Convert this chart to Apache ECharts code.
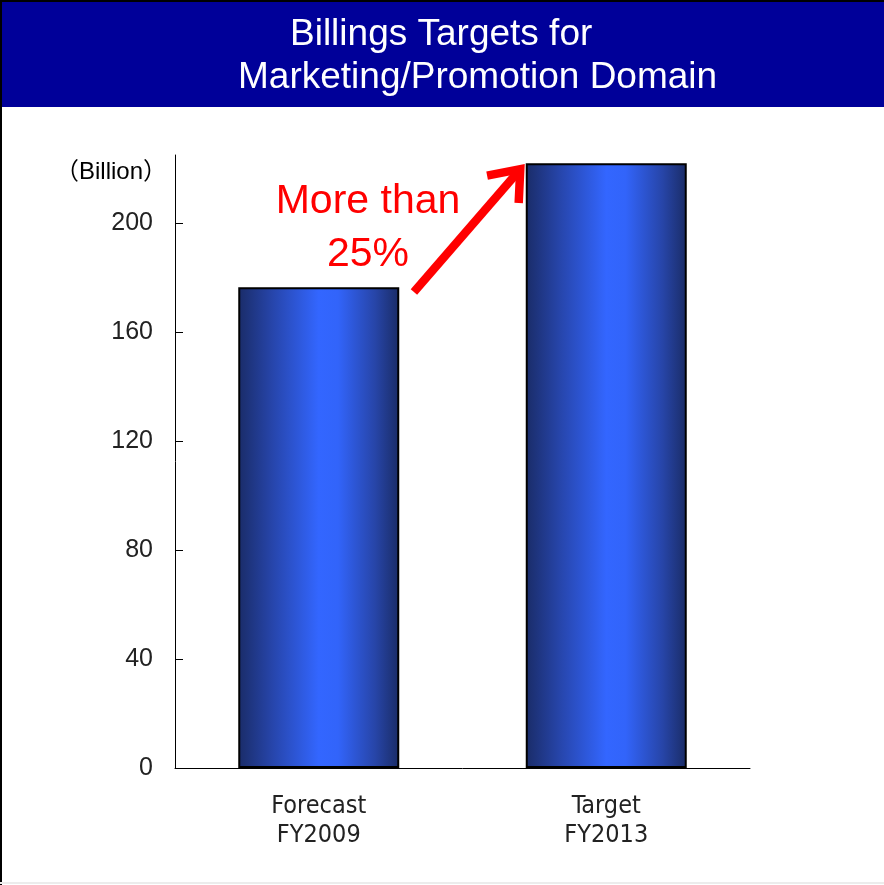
<!DOCTYPE html>
<html>
<head>
<meta charset="utf-8">
<script src="https://cdn.jsdelivr.net/npm/echarts@6/dist/echarts.min.js"></script>
<style>
  html, body { margin: 0; padding: 0; background: #fff; }
  #chart { width: 884px; height: 885px; }
</style>
</head>
<body>
<div id="chart"></div>
<script>
// Billings (in billions) for the marketing/promotion domain
const categories = ['Forecast\nFY2009', 'Target\nFY2013'];
const billings = [176.5, 222];
const yTicks = [0, 40, 80, 120, 160, 200];
// Growth arrow, in data units: [xStart, yStart, xEnd, yEnd] on a 0..2 helper axis
const growthArrow = [[0.831, 174.7, 1.21, 220.9]];

const chart = echarts.init(document.getElementById('chart'));

const barGradient = new echarts.graphic.LinearGradient(0, 0, 1, 0, [
  { offset: 0, color: '#1a2c68' },
  { offset: 0.22, color: '#2746ad' },
  { offset: 0.5, color: '#3366ff' },
  { offset: 0.62, color: '#3264fa' },
  { offset: 0.85, color: '#2745a8' },
  { offset: 1, color: '#1a2c66' }
]);

function renderArrow(params, api) {
  const p0 = api.coord([api.value(0), api.value(1)]);
  const p1 = api.coord([api.value(2), api.value(3)]);
  const ang = Math.atan2(p1[1] - p0[1], p1[0] - p0[0]);
  const len = 37, spread = 0.6;
  const a1 = [p1[0] - len * Math.cos(ang - spread), p1[1] - len * Math.sin(ang - spread)];
  const a2 = [p1[0] - len * Math.cos(ang + spread), p1[1] - len * Math.sin(ang + spread)];
  const tipBack = [p1[0] - 4 * Math.cos(ang), p1[1] - 4 * Math.sin(ang)];
  const style = { stroke: '#ff0000', lineWidth: 8.5, fill: null, lineJoin: 'miter', lineCap: 'butt' };
  return {
    type: 'group',
    children: [
      { type: 'line', shape: { x1: p0[0], y1: p0[1], x2: tipBack[0], y2: tipBack[1] }, style: style },
      { type: 'polyline', shape: { points: [a1, tipBack, a2] }, style: style }
    ]
  };
}

chart.setOption({
  backgroundColor: '#ffffff',
  animation: false,
  grid: { left: 175, right: 134, top: 155, bottom: 117 },
  xAxis: [
    {
      type: 'category',
      data: categories,
      axisLine: { lineStyle: { color: '#000', width: 1 } },
      axisTick: { show: false },
      axisLabel: {
        margin: 24,
        fontSize: 25,
        lineHeight: 29,
        color: '#222',
        fontFamily: '"Liberation Sans Narrow", "DejaVu Sans Condensed", sans-serif'
      }
    },
    {
      type: 'value',
      min: 0,
      max: 2,
      show: false
    }
  ],
  yAxis: {
    type: 'value',
    min: 0,
    max: 225,
    interval: 40,
    axisLine: { show: true, lineStyle: { color: '#000', width: 1 } },
    axisTick: { show: true, inside: true, length: 8, customValues: yTicks, lineStyle: { color: '#000' } },
    axisLabel: {
      customValues: yTicks,
      margin: 22,
      fontSize: 25,
      color: '#222',
      fontFamily: '"Liberation Sans", Arial, sans-serif'
    },
    splitLine: { show: false }
  },
  graphic: [
    { type: 'rect', shape: { x: 0, y: 0, width: 884, height: 107 }, style: { fill: '#000099' }, z: 0 },
    { type: 'rect', shape: { x: 0, y: 0, width: 884, height: 2 }, style: { fill: '#000' }, z: 1 },
    { type: 'rect', shape: { x: 0, y: 0, width: 2, height: 885 }, style: { fill: '#000' }, z: 1 },
    { type: 'rect', shape: { x: 0, y: 882, width: 884, height: 2 }, style: { fill: '#ececec' }, z: 1 },
    {
      type: 'text', left: 290, top: 16, z: 2,
      style: { text: 'Billings Targets for', fill: '#fff', font: '37px "Liberation Sans", Arial, sans-serif' }
    },
    {
      type: 'text', left: 238, top: 59, z: 2,
      style: { text: 'Marketing/Promotion Domain', fill: '#fff', font: '37px "Liberation Sans", Arial, sans-serif' }
    },
    {
      type: 'text', right: 884 - 167, top: 160, z: 2,
      style: { text: '（Billion）', fill: '#000', font: '24px "Liberation Sans", "Noto Sans CJK JP", sans-serif' }
    },
    {
      type: 'text', x: 368, y: 228, z: 2,
      style: {
        text: 'More than\n25%', fill: '#ff0000', align: 'center', verticalAlign: 'middle',
        font: '41px "Liberation Sans", Arial, sans-serif', lineHeight: 53
      }
    }
  ],
  series: [
    {
      type: 'bar',
      data: billings,
      barWidth: '56%',
      itemStyle: { color: barGradient, borderColor: '#000', borderWidth: 2 }
    },
    {
      type: 'custom',
      xAxisIndex: 1,
      data: growthArrow,
      renderItem: renderArrow,
      z: 5
    }
  ]
});
</script>
</body>
</html>
